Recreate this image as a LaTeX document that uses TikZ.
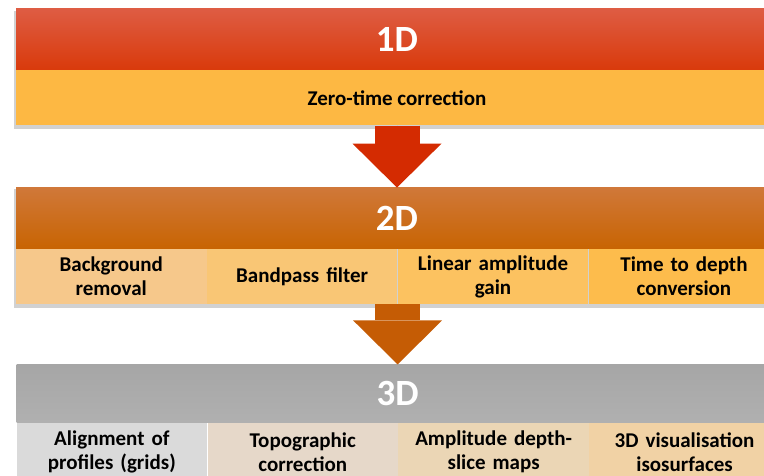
\documentclass[tikz,border=0pt]{standalone}
\usepackage{fontspec}
\setmainfont{Carlito}
\usepackage{xcolor}
\usetikzlibrary{positioning,arrows.meta,backgrounds,fit,calc}

\definecolor{redtop}{HTML}{DE5C43}
\definecolor{redbot}{HTML}{D93A0B}
\definecolor{orntop}{HTML}{D07839}
\definecolor{ornbot}{HTML}{C86402}
\definecolor{grytop}{HTML}{A6A6A6}
\definecolor{grybot}{HTML}{B0B0B0}
\definecolor{yelsub}{HTML}{FDB843}
\definecolor{orsubA}{HTML}{F6C88B}
\definecolor{orsubB}{HTML}{F9C675}
\definecolor{orsubC}{HTML}{FCC260}
\definecolor{orsubD}{HTML}{FDBC4C}
\definecolor{grsubA}{HTML}{DADADA}
\definecolor{grsubB}{HTML}{E6D8C9}
\definecolor{grsubC}{HTML}{EBD6B5}
\definecolor{grsubD}{HTML}{F1D2A5}
\definecolor{arrred}{HTML}{D42B01}
\definecolor{arrorn}{HTML}{C55C05}

\begin{document}
\begin{tikzpicture}[x=1pt,y=1pt,
   header/.style={minimum width=762pt,minimum height=61pt,inner sep=0pt,
     text=white,font=\fontsize{37}{42}\selectfont\bfseries},
   subrow/.style={minimum width=762pt,minimum height=55pt,inner sep=0pt,
     font=\fontsize{21}{24}\selectfont\bfseries},
   cell/.style={text width=190.5pt,minimum height=55pt,inner sep=0pt,align=center,
     font=\fontsize{21}{24}\selectfont\bfseries},
   shade/.style={fill=black!30,opacity=0.6},
   blockarrow/.style={line width=45pt,-{Triangle[width=89pt,length=44pt,line width=0pt]}}]
\useasboundingbox (0,0) rectangle (764,476);

% 1D
\node[header,top color=redtop,bottom color=redbot] (h1) at (397,436.5) {1D};
\node[subrow,fill=yelsub,below=0pt of h1] (s1) {Zero-time correction};

% 2D
\node[header,top color=orntop,bottom color=ornbot,below=62pt of s1] (h2) {2D};
\node[cell,fill=orsubA,anchor=north west] (c21) at (h2.south west) {Background\\removal};
\node[cell,fill=orsubB,right=0pt of c21] (c22) {Bandpass filter};
\node[cell,fill=orsubC,right=0pt of c22] (c23) {Linear amplitude\\gain};
\node[cell,fill=orsubD,right=0pt of c23] (c24) {Time to depth\\conversion};

% 3D
\node[header,minimum height=58pt,top color=grytop,bottom color=grybot,below=60pt of c22.south east,anchor=north] (h3) {3D};
\node[cell,minimum height=58pt,fill=grsubA,anchor=north west] (c31) at (h3.south west) {Alignment of\\profiles (grids)};
\node[cell,minimum height=58pt,fill=grsubB,right=0pt of c31] (c32) {Topographic\\correction};
\node[cell,minimum height=58pt,fill=grsubC,right=0pt of c32] (c33) {Amplitude depth-\\slice maps};
\node[cell,minimum height=58pt,fill=grsubD,right=0pt of c33] (c34) {3D visualisation\\isosurfaces};

\begin{scope}[on background layer]
  \node[fit=(h1)(s1),inner sep=0pt] (b1) {};
  \node[fit=(h2)(c21)(c24),inner sep=0pt] (b2) {};
  \fill[shade] ($(b1.north west)+(-2,-2)$) rectangle ($(b1.south east)+(-2,-3)$);
  \fill[shade] ($(b2.north west)+(-2,-2)$) rectangle ($(b2.south east)+(-2,-3)$);
\end{scope}

\draw[blockarrow,draw=arrred,fill=arrred] (s1.south) -- (h2.north);
\draw[blockarrow,draw=arrorn,fill=arrorn] (c22.south east) -- (h3.north);
\end{tikzpicture}
\end{document}
